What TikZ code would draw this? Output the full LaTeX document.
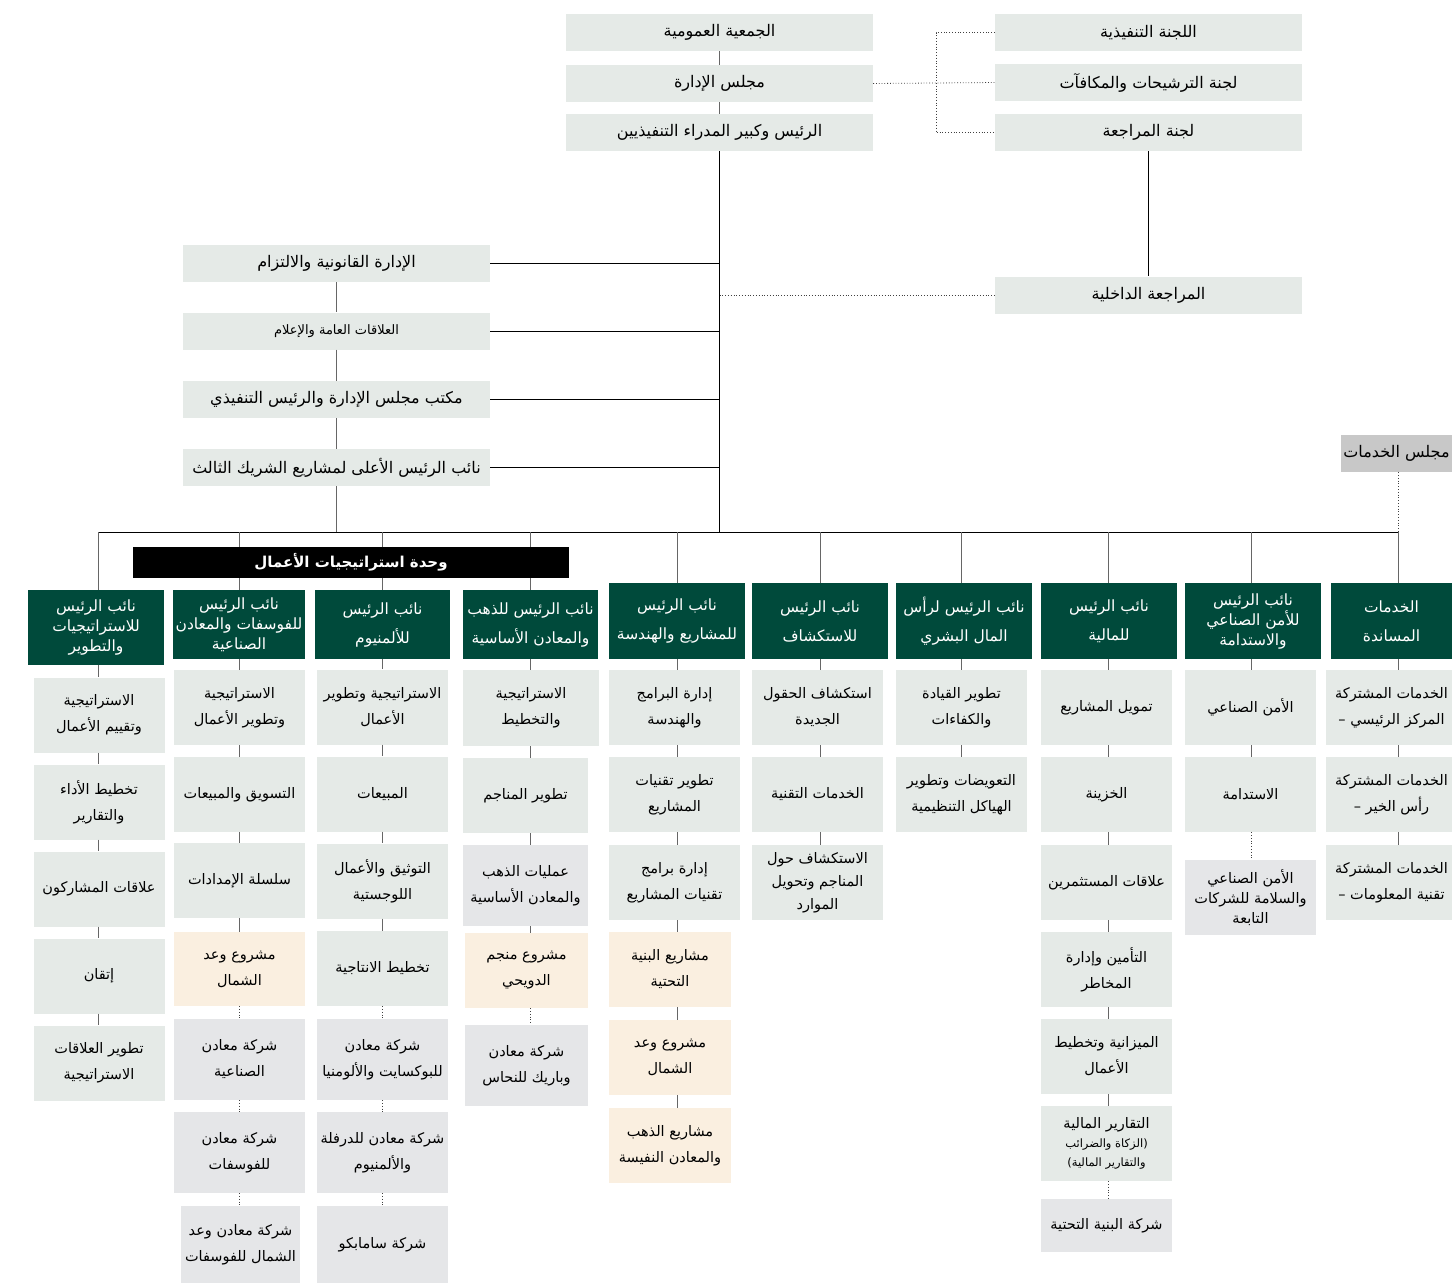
\documentclass[tikz,border=0pt]{standalone}
\usepackage{fontspec}
\newfontfamily\arabicfont[Script=Arabic]{DejaVu Sans}
\TeXXeTstate=1

\definecolor{paleGreen}{HTML}{E5EAE7}
\definecolor{darkGreen}{HTML}{004A3B}
\definecolor{creamBox}{HTML}{FAEFE0}
\definecolor{firmGray}{HTML}{E5E6E8}
\definecolor{servGray}{HTML}{C8C8C8}

% one line of right-to-left text
\newcommand{\AR}[1]{\beginR #1\endR}

\tikzset{
  topbox/.style={fill=paleGreen, inner sep=0pt, minimum width=307, minimum height=37,
    font=\arabicfont\fontsize{16}{18}\selectfont},
  head/.style={fill=darkGreen, text=white, align=center, inner sep=0pt,
    minimum width=136, minimum height=76, font=\arabicfont\fontsize{15.5}{29}\selectfont},
  head3/.style={head, font=\arabicfont\fontsize{15.5}{20}\selectfont},
  unit/.style={fill=paleGreen, align=center, inner sep=0pt,
    minimum width=131, minimum height=75, font=\arabicfont\fontsize{14.5}{26}\selectfont},
  unit3/.style={unit, font=\arabicfont\fontsize{14.5}{23}\selectfont},
  proj/.style={unit, fill=creamBox},
  firm/.style={unit, fill=firmGray},
  link/.style={draw=black!60, line width=0.7pt},
  dotlink/.style={draw=black!75, line width=0.8pt, dotted},
  busline/.style={draw=black, line width=0.7pt},
  boardlink/.style={draw=black!75, line width=0.8pt, dotted}
}

\begin{document}
\begin{tikzpicture}[x=1pt,y=-1pt]
  \useasboundingbox (0,0) rectangle (1452,1283);

  % board and top management
  \node[topbox] (assembly) at (719.5,32.5) {\AR{الجمعية العمومية}};
  \node[topbox] (board) at (719.5,83.5) {\AR{مجلس الإدارة}};
  \node[topbox] (ceo) at (719.5,132.5) {\AR{الرئيس وكبير المدراء التنفيذيين}};

  % board committees
  \node[topbox] (execcom) at (1148.5,32.5) {\AR{اللجنة التنفيذية}};
  \node[topbox] (nomcom) at (1148.5,82.5) {\AR{لجنة الترشيحات والمكافآت}};
  \node[topbox] (auditcom) at (1148.5,132.5) {\AR{لجنة المراجعة}};
  \node[topbox] (intaudit) at (1148.5,295) {\AR{المراجعة الداخلية}};

  % staff offices
  \node[topbox] (legal) at (336.5,263.5) {\AR{الإدارة القانونية والالتزام}};
  \node[topbox, font=\arabicfont\fontsize{13}{15}\selectfont] (media) at (336.5,331) {\AR{العلاقات العامة والإعلام}};
  \node[topbox] (office) at (336.5,399.5) {\AR{مكتب مجلس الإدارة والرئيس التنفيذي}};
  \node[topbox] (partner) at (336.5,467.5) {\AR{نائب الرئيس الأعلى لمشاريع الشريك الثالث}};
  \node[topbox, fill=servGray, minimum width=111] (serv) at (1396.5,453.5) {\AR{مجلس الخدمات}};

  % vice presidents
  \node[head3, minimum height=75] (strat) at (96,627.5) {\AR{نائب الرئيس}\\\AR{للاستراتيجيات}\\\AR{والتطوير}};
  \node[head3, minimum width=132, minimum height=69] (phos) at (239,624.5) {\AR{نائب الرئيس}\\\AR{للفوسفات والمعادن}\\\AR{الصناعية}};
  \node[head, minimum width=135, minimum height=69] (alum) at (382.5,624.5) {\AR{نائب الرئيس}\\\AR{للألمنيوم}};
  \node[head, minimum width=135, minimum height=69] (gold) at (530.5,624.5) {\AR{نائب الرئيس للذهب}\\\AR{والمعادن الأساسية}};
  \node[head] (proj) at (677,621) {\AR{نائب الرئيس}\\\AR{للمشاريع والهندسة}};
  \node[head] (expl) at (820,621) {\AR{نائب الرئيس}\\\AR{للاستكشاف}};
  \node[head] (hr) at (964,621) {\AR{نائب الرئيس لرأس}\\\AR{المال البشري}};
  \node[head] (fin) at (1109,621) {\AR{نائب الرئيس}\\\AR{للمالية}};
  \node[head3] (hse) at (1253,621) {\AR{نائب الرئيس}\\\AR{للأمن الصناعي}\\\AR{والاستدامة}};
  \node[head, minimum width=121] (supp) at (1391.5,621) {\AR{الخدمات}\\\AR{المساندة}};

  % strategy and development
  \begin{scope}[every node/.append style={minimum width=130, minimum height=74}]
    \node[unit] (strat1) at (99,715) {\AR{الاستراتيجية}\\\AR{وتقييم الأعمال}};
    \node[unit] (strat2) at (99,802) {\AR{تخطيط الأداء}\\\AR{والتقارير}};
    \node[unit] (strat3) at (99,889) {\AR{علاقات المشاركون}};
    \node[unit] (strat4) at (99,976) {\AR{إتقان}};
    \node[unit] (strat5) at (99,1063) {\AR{تطوير العلاقات}\\\AR{الاستراتيجية}};
  \end{scope}

  % phosphate
  \begin{scope}[every node/.append style={minimum width=121}]
    \node[unit] (phos1) at (239.5,707.5) {\AR{الاستراتيجية}\\\AR{وتطوير الأعمال}};
    \node[unit] (phos2) at (239.5,794.5) {\AR{التسويق والمبيعات}};
    \node[unit] (phos3) at (239.5,880.5) {\AR{سلسلة الإمدادات}};
    \node[proj, minimum height=74] (phos4) at (239.5,969) {\AR{مشروع وعد}\\\AR{الشمال}};
    \node[firm, minimum height=81] (phos5) at (239.5,1059.5) {\AR{شركة معادن}\\\AR{الصناعية}};
    \node[firm, minimum height=81] (phos6) at (239.5,1152.5) {\AR{شركة معادن}\\\AR{للفوسفات}};
    \node[firm, minimum height=77, minimum width=119] (phos7) at (240.5,1244.5) {\AR{شركة معادن وعد}\\\AR{الشمال للفوسفات}};
  \end{scope}

  % aluminium
  \begin{scope}[every node/.append style={minimum width=135}]
    \node[unit] (alum1) at (382.5,707) {\AR{الاستراتيجية وتطوير}\\\AR{الأعمال}};
    \node[unit] (alum2) at (382.5,794) {\AR{المبيعات}};
    \node[unit] (alum3) at (382.5,881) {\AR{التوثيق والأعمال}\\\AR{اللوجستية}};
    \node[unit] (alum4) at (382.5,968.5) {\AR{تخطيط الانتاجية}};
    \node[firm, minimum height=81] (alum5) at (382.5,1059.5) {\AR{شركة معادن}\\\AR{للبوكسايت والألومنيا}};
    \node[firm, minimum height=81] (alum6) at (382.5,1152.5) {\AR{شركة معادن للدرفلة}\\\AR{والألمنيوم}};
    \node[firm, minimum height=77] (alum7) at (382.5,1244.5) {\AR{شركة سامابكو}};
  \end{scope}

  % gold and base metals
  \node[unit, minimum width=136, minimum height=76] (gold1) at (531,708) {\AR{الاستراتيجية}\\\AR{والتخطيط}};
  \node[unit, minimum width=125] (gold2) at (525.5,795.5) {\AR{تطوير المناجم}};
  \node[firm, minimum width=125, minimum height=81] (gold3) at (525.5,885.5) {\AR{عمليات الذهب}\\\AR{والمعادن الأساسية}};
  \node[proj, minimum width=123] (gold4) at (526.5,970.5) {\AR{مشروع منجم}\\\AR{الدويحي}};
  \node[firm, minimum width=123, minimum height=81] (gold5) at (526.5,1065.5) {\AR{شركة معادن}\\\AR{وباريك للنحاس}};

  % projects and engineering
  \node[unit] (proj1) at (674.5,707.5) {\AR{إدارة البرامج}\\\AR{والهندسة}};
  \node[unit] (proj2) at (674.5,794.5) {\AR{تطوير تقنيات}\\\AR{المشاريع}};
  \node[unit] (proj3) at (674.5,882.5) {\AR{إدارة برامج}\\\AR{تقنيات المشاريع}};
  \node[proj, minimum width=122] (proj4) at (670,969.5) {\AR{مشاريع البنية}\\\AR{التحتية}};
  \node[proj, minimum width=122] (proj5) at (670,1057.5) {\AR{مشروع وعد}\\\AR{الشمال}};
  \node[proj, minimum width=122] (proj6) at (670,1145.5) {\AR{مشاريع الذهب}\\\AR{والمعادن النفيسة}};

  % exploration
  \node[unit] (expl1) at (817.5,707.5) {\AR{استكشاف الحقول}\\\AR{الجديدة}};
  \node[unit] (expl2) at (817.5,794.5) {\AR{الخدمات التقنية}};
  \node[unit3] (expl3) at (817.5,882.5) {\AR{الاستكشاف حول}\\\AR{المناجم وتحويل}\\\AR{الموارد}};

  % human capital
  \node[unit] (hr1) at (961.5,707.5) {\AR{تطوير القيادة}\\\AR{والكفاءات}};
  \node[unit] (hr2) at (961.5,794.5) {\AR{التعويضات وتطوير}\\\AR{الهياكل التنظيمية}};

  % finance
  \node[unit] (fin1) at (1106.5,707.5) {\AR{تمويل المشاريع}};
  \node[unit] (fin2) at (1106.5,794.5) {\AR{الخزينة}};
  \node[unit] (fin3) at (1106.5,882.5) {\AR{علاقات المستثمرين}};
  \node[unit] (fin4) at (1106.5,969.5) {\AR{التأمين وإدارة}\\\AR{المخاطر}};
  \node[unit] (fin5) at (1106.5,1056.5) {\AR{الميزانية وتخطيط}\\\AR{الأعمال}};
  \node[unit, font=\arabicfont\fontsize{14.5}{19}\selectfont] (fin6) at (1106.5,1143.5)
    {\AR{التقارير المالية}\\{\fontsize{11.5}{19}\selectfont\AR{(الزكاة والضرائب}}\\{\fontsize{11.5}{19}\selectfont\AR{والتقارير المالية)}}};
  \node[firm, minimum height=53] (fin7) at (1106.5,1225.5) {\AR{شركة البنية التحتية}};

  % security and sustainability
  \node[unit] (hse1) at (1250.5,707.5) {\AR{الأمن الصناعي}};
  \node[unit] (hse2) at (1250.5,794.5) {\AR{الاستدامة}};
  \node[firm, font=\arabicfont\fontsize{14.5}{20}\selectfont] (hse3) at (1250.5,897.5) {\AR{الأمن الصناعي}\\\AR{والسلامة للشركات}\\\AR{التابعة}};

  % support services
  \begin{scope}[every node/.append style={minimum width=121}]
    \node[unit] (supp1) at (1391.5,707.5) {\AR{الخدمات المشتركة}\\\AR{المركز الرئيسي –}};
    \node[unit] (supp2) at (1391.5,794.5) {\AR{الخدمات المشتركة}\\\AR{رأس الخير –}};
    \node[unit] (supp3) at (1391.5,882.5) {\AR{الخدمات المشتركة}\\\AR{تقنية المعلومات –}};
  \end{scope}

  % bus and column drops
  \coordinate (cA) at (98,532);
  \coordinate (cB) at (239,532);
  \coordinate (cC) at (382,532);
  \coordinate (cD) at (530,532);
  \coordinate (cE) at (677,532);
  \coordinate (cF) at (820,532);
  \coordinate (cG) at (961,532);
  \coordinate (cH) at (1108,532);
  \coordinate (cI) at (1251,532);
  \coordinate (cJ) at (1398,532);

  \draw[busline] (ceo.south) -- (ceo.south |- cA);
  \draw[busline] (cA) -- (cJ);
  \foreach \c/\v in {cA/strat, cB/phos, cC/alum, cD/gold, cE/proj, cF/expl, cG/hr, cH/fin, cI/hse, cJ/supp}
    \draw[link] (\c) -- (\c |- \v.north);

  % staff offices to the main line
  \foreach \s in {legal, media, office, partner}
    \draw[busline] (\s.east) -- (\s.east -| ceo.south);
  \foreach \a/\b in {legal/media, media/office, office/partner}
    \draw[link] (\a.south) -- (\b.north);
  \draw[link] (partner.south) -- (partner.south |- cA);

  % committees
  \draw[link] (assembly.south) -- (board.north);
  \draw[link] (board.south) -- (ceo.north);
  \coordinate (cjoin) at (936,83);
  \draw[boardlink] (board.east) -- (nomcom.west);
  \draw[boardlink] (execcom.west) -- (execcom.west -| cjoin) -- (auditcom.west -| cjoin) -- (auditcom.west);
  \draw[busline] (auditcom.south) -- (intaudit.north);
  \draw[boardlink] (ceo.south |- intaudit.west) -- (intaudit.west);
  \draw[boardlink] (cJ |- serv.south) -- (cJ);

  % solid links inside the columns
  \foreach \c/\a/\b in {cA/strat/strat1, cA/strat1/strat2, cA/strat2/strat3, cA/strat3/strat4, cA/strat4/strat5,
      cB/phos/phos1, cB/phos1/phos2, cB/phos2/phos3, cB/phos3/phos4,
      cC/alum/alum1, cC/alum1/alum2, cC/alum2/alum3, cC/alum3/alum4,
      cD/gold/gold1, cD/gold1/gold2, cD/gold2/gold3, cD/gold3/gold4,
      cE/proj/proj1, cE/proj1/proj2, cE/proj2/proj3, cE/proj3/proj4, cE/proj4/proj5, cE/proj5/proj6,
      cF/expl/expl1, cF/expl1/expl2, cF/expl2/expl3,
      cG/hr/hr1, cG/hr1/hr2,
      cH/fin/fin1, cH/fin1/fin2, cH/fin2/fin3, cH/fin3/fin4, cH/fin4/fin5, cH/fin5/fin6,
      cI/hse/hse1, cI/hse1/hse2,
      cJ/supp/supp1, cJ/supp1/supp2, cJ/supp2/supp3}
    \draw[link] (\c |- \a.south) -- (\c |- \b.north);

  % dotted links to the companies
  \foreach \c/\a/\b in {cB/phos4/phos5, cB/phos5/phos6, cB/phos6/phos7,
      cC/alum4/alum5, cC/alum5/alum6, cC/alum6/alum7,
      cD/gold4/gold5, cH/fin6/fin7, cI/hse2/hse3}
    \draw[dotlink] (\c |- \a.south) -- (\c |- \b.north);

  % business strategies unit
  \node[fill=black, text=white, minimum width=436, minimum height=31, inner sep=0pt,
    font=\arabicfont\bfseries\fontsize{15}{17}\selectfont] (bizunit) at (351,562.5) {\AR{وحدة استراتيجيات الأعمال}};
\end{tikzpicture}
\end{document}
